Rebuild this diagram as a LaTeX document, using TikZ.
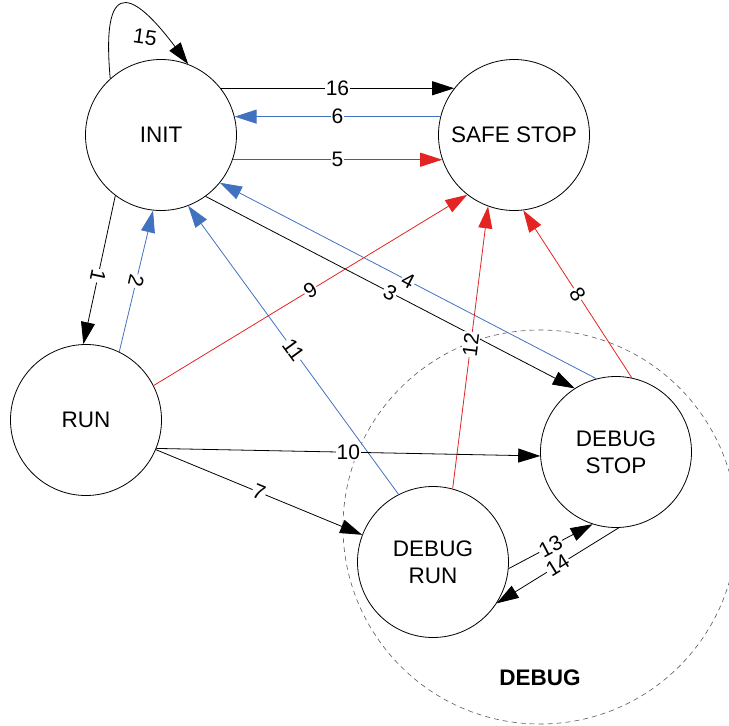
\documentclass[tikz,border=0pt]{standalone}
\usepackage{fontspec}
\setmainfont{Liberation Sans}
\usetikzlibrary{arrows.meta}
\definecolor{eblue}{RGB}{65,114,192}
\definecolor{ered}{RGB}{228,35,35}
\definecolor{dgray}{RGB}{90,90,90}
\begin{document}
\begin{tikzpicture}[x=1pt,y=-1pt,
  state/.style={draw, circle, minimum size=151pt, inner sep=0pt, fill=white, line width=0.8pt, font=\fontsize{22.5}{27}\selectfont, align=center},
  edge/.style={line width=0.8pt, -{Triangle[length=22pt,width=14pt]}},
  bedge/.style={edge, draw=eblue},
  redge/.style={edge, draw=ered},
  lbl/.style={fill=white, inner sep=1pt, text=black, font=\fontsize{21}{24}\selectfont},
  group/.style={draw=dgray, circle, line width=0.6pt, dash pattern=on 5pt off 4pt, minimum size=394pt, inner sep=0pt}]
\useasboundingbox (0,0) rectangle (729,726);
\node[group] (debug) at (540,527) {};
\node[font=\bfseries\fontsize{22.5}{27}\selectfont] (debuglbl) at (540,678) {DEBUG};
\node[state] (init) at (161,135) {INIT};
\node[state] (safe) at (514,135) {SAFE STOP};
\node[state] (run) at (86,420) {RUN};
\node[state] (dstop) at (616,452) {DEBUG\\STOP};
\node[state] (drun) at (433,562) {DEBUG\\RUN};
% edges
\draw[edge] (init.38) -- node[lbl] (l16) {16} (safe.142);
\draw[bedge] (safe.166) -- node[lbl] (l6) {6} (init.14);
\draw[redge] (init.-19) -- node[lbl] (l5) {5} (safe.199);
\draw[edge] (init.132) .. controls (100,-35) and (140,0) .. (init.69);
\node[font=\fontsize{21}{24}\selectfont, rotate=-8] (l15) at (145,37) {15};
\draw[edge] (init.233) -- node[lbl, pos=0.54, rotate=-102] (l1) {1} (run.92);
\draw[bedge] (run.64) -- node[lbl, rotate=-103] (l2) {2} (init.264);
\draw[bedge] (drun.117) -- node[lbl, sloped] (l11) {11} (init.291);
\draw[redge] (run.27) -- node[lbl, sloped] (l9) {9} (safe.232);
\draw[edge] (init.306) -- node[lbl, sloped] (l3) {3} (dstop.123);
\draw[bedge] (dstop.105) -- node[lbl, sloped] (l4) {4} (init.321);
\draw[redge] (drun.75) -- node[lbl, sloped, pos=0.51] (l12) {12} (safe.250);
\draw[redge] (dstop.78) -- node[lbl, sloped] (l8) {8} (safe.277);
\draw[edge] (run.-22) -- node[lbl] (l10) {10} (dstop.183);
\draw[edge] (run.-23) -- node[lbl, sloped] (l7) {7} (drun.159);
\draw[edge] (drun.-5) -- node[lbl, sloped] (l13) {13} (dstop.252);
\draw[edge] (dstop.272) -- node[lbl, sloped] (l14) {14} (drun.327);
\end{tikzpicture}
\end{document}
